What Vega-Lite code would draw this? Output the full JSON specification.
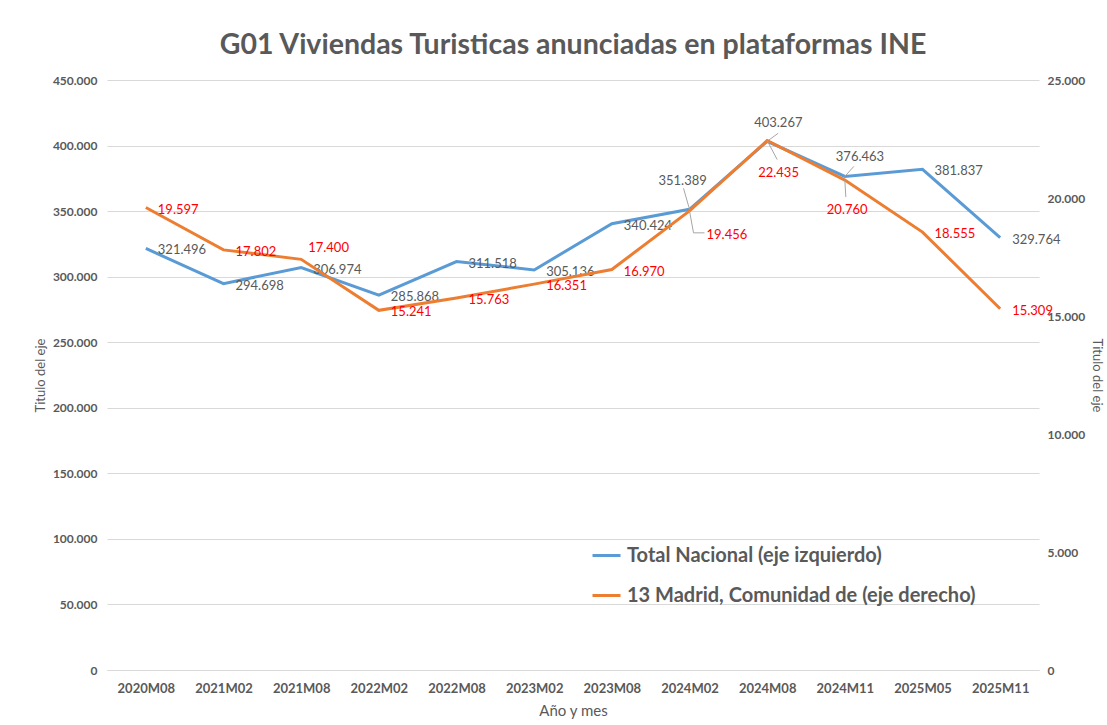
{
  "$schema": "https://vega.github.io/schema/vega-lite/v6.json",
  "width": 932,
  "height": 590,
  "autosize": "none",
  "padding": {"left": 107, "top": 80, "right": 68, "bottom": 55},
  "background": "white",
  "config": {
    "font": "Lato",
    "locale": {"number": {"decimal": ",", "thousands": ".", "grouping": [3], "currency": ["", " €"]}},
    "view": {"stroke": null},
    "axis": {"labelColor": "#595959", "titleColor": "#595959", "labelFontWeight": "bold", "labelFontSize": 12, "titleFontWeight": "normal", "ticks": false}
  },
  "title": {"text": "G01 Viviendas Turisticas anunciadas en plataformas INE", "fontSize": 28.5, "fontWeight": "bold", "color": "#595959", "offset": 15, "font": "Lato"},
  "data": {"values": [
    {"mes": "2020M08", "total": 321496, "madrid": 19597},
    {"mes": "2021M02", "total": 294698, "madrid": 17802},
    {"mes": "2021M08", "total": 306974, "madrid": 17400},
    {"mes": "2022M02", "total": 285868, "madrid": 15241},
    {"mes": "2022M08", "total": 311518, "madrid": 15763},
    {"mes": "2023M02", "total": 305136, "madrid": 16351},
    {"mes": "2023M08", "total": 340424, "madrid": 16970},
    {"mes": "2024M02", "total": 351389, "madrid": 19456},
    {"mes": "2024M08", "total": 403267, "madrid": 22435},
    {"mes": "2024M11", "total": 376463, "madrid": 20760},
    {"mes": "2025M05", "total": 381837, "madrid": 18555},
    {"mes": "2025M11", "total": 329764, "madrid": 15309}
  ]},
  "encoding": {
    "x": {"field": "mes", "type": "ordinal", "scale": {"type": "point", "padding": 0.5},
      "axis": {"labelAngle": 0, "title": "Año y mes", "titleFontSize": 15, "labelFontSize": 13, "labelPadding": 12, "titlePadding": 8, "domainColor": "#D9D9D9", "grid": false}}
  },
  "layer": [
    {
      "encoding": {
        "y": {"field": "total", "type": "quantitative", "scale": {"domain": [0, 450000], "nice": false},
          "axis": {"values": [0, 50000, 100000, 150000, 200000, 250000, 300000, 350000, 400000, 450000], "format": ",d", "grid": true, "gridColor": "#D9D9D9", "domain": false, "labelPadding": 10, "title": "Titulo del eje", "titleFontSize": 13, "titlePadding": 5}}
      },
      "layer": [
        {"mark": {"type": "line", "strokeWidth": 3, "color": "#5B9BD5"},
          "encoding": {"color": {"datum": "Total Nacional (eje izquierdo)", "type": "nominal",
            "scale": {"domain": ["Total Nacional (eje izquierdo)", "13 Madrid, Comunidad de (eje derecho)"], "range": ["#5B9BD5", "#ED7D31"]},
            "legend": {"orient": "none", "legendX": 484, "legendY": 460, "title": null, "symbolType": "stroke", "symbolStrokeWidth": 3, "symbolSize": 784, "labelFontSize": 20, "labelFontWeight": "bold", "labelColor": "#595959", "rowPadding": 14, "labelOffset": 5, "labelLimit": 0}}}},
        {"transform": [{"filter": "indexof(['2024M02','2024M08','2024M11'], datum.mes) < 0"}],
          "mark": {"type": "text", "align": "left", "baseline": "middle", "dx": 12, "dy": 2, "fontSize": 13, "color": "#595959"},
          "encoding": {"text": {"field": "total", "type": "quantitative", "format": ",d"}}},
        {"transform": [{"filter": "datum.mes == '2024M02'"}],
          "mark": {"type": "text", "align": "left", "baseline": "middle", "dx": -31, "dy": -28, "fontSize": 13, "color": "#595959"},
          "encoding": {"text": {"field": "total", "type": "quantitative", "format": ",d"}}},
        {"transform": [{"filter": "datum.mes == '2024M08'"}],
          "mark": {"type": "text", "align": "left", "baseline": "middle", "dx": -13, "dy": -18, "fontSize": 13, "color": "#595959"},
          "encoding": {"text": {"field": "total", "type": "quantitative", "format": ",d"}}},
        {"transform": [{"filter": "datum.mes == '2024M11'"}],
          "mark": {"type": "text", "align": "left", "baseline": "middle", "dx": -9, "dy": -19, "fontSize": 13, "color": "#595959"},
          "encoding": {"text": {"field": "total", "type": "quantitative", "format": ",d"}}},
        {"transform": [{"filter": "datum.mes == '2024M02'"}],
          "mark": {"type": "rule", "color": "#A6A6A6", "strokeWidth": 1, "x2Offset": -6, "y2Offset": -21},
          "encoding": {"x2": {"field": "mes"}, "y2": {"field": "total"}}},
        {"transform": [{"filter": "datum.mes == '2024M08'"}],
          "mark": {"type": "rule", "color": "#A6A6A6", "strokeWidth": 1, "x2Offset": 11, "y2Offset": -8},
          "encoding": {"x2": {"field": "mes"}, "y2": {"field": "total"}}},
        {"transform": [{"filter": "datum.mes == '2024M11'"}],
          "mark": {"type": "rule", "color": "#A6A6A6", "strokeWidth": 1, "x2Offset": 9, "y2Offset": -10},
          "encoding": {"x2": {"field": "mes"}, "y2": {"field": "total"}}}
      ]
    },
    {
      "encoding": {
        "y": {"field": "madrid", "type": "quantitative", "scale": {"domain": [0, 25000], "nice": false},
          "axis": {"orient": "right", "values": [0, 5000, 10000, 15000, 20000, 25000], "format": ",d", "grid": false, "domain": false, "labelPadding": 8, "title": "Titulo del eje", "titleFontSize": 13, "titlePadding": 5}}
      },
      "layer": [
        {"mark": {"type": "line", "strokeWidth": 3, "color": "#ED7D31"},
          "encoding": {"color": {"datum": "13 Madrid, Comunidad de (eje derecho)", "type": "nominal"}}},
        {"transform": [{"filter": "indexof(['2021M08','2024M02','2024M08','2024M11'], datum.mes) < 0"}],
          "mark": {"type": "text", "align": "left", "baseline": "middle", "dx": 12, "dy": 2, "fontSize": 13, "color": "#FF0000"},
          "encoding": {"text": {"field": "madrid", "type": "quantitative", "format": ",d"}}},
        {"transform": [{"filter": "datum.mes == '2021M08'"}],
          "mark": {"type": "text", "align": "left", "baseline": "middle", "dx": 7, "dy": -11, "fontSize": 13, "color": "#FF0000"},
          "encoding": {"text": {"field": "madrid", "type": "quantitative", "format": ",d"}}},
        {"transform": [{"filter": "datum.mes == '2024M02'"}],
          "mark": {"type": "text", "align": "left", "baseline": "middle", "dx": 17, "dy": 24, "fontSize": 13, "color": "#FF0000"},
          "encoding": {"text": {"field": "madrid", "type": "quantitative", "format": ",d"}}},
        {"transform": [{"filter": "datum.mes == '2024M08'"}],
          "mark": {"type": "text", "align": "left", "baseline": "middle", "dx": -9, "dy": 32, "fontSize": 13, "color": "#FF0000"},
          "encoding": {"text": {"field": "madrid", "type": "quantitative", "format": ",d"}}},
        {"transform": [{"filter": "datum.mes == '2024M11'"}],
          "mark": {"type": "text", "align": "left", "baseline": "middle", "dx": -18, "dy": 30, "fontSize": 13, "color": "#FF0000"},
          "encoding": {"text": {"field": "madrid", "type": "quantitative", "format": ",d"}}},
        {"transform": [{"filter": "datum.mes == '2024M02'"}],
          "mark": {"type": "rule", "color": "#A6A6A6", "strokeWidth": 1, "x2Offset": 4, "y2Offset": 22},
          "encoding": {"x2": {"field": "mes"}, "y2": {"field": "madrid"}}},
        {"transform": [{"filter": "datum.mes == '2024M02'"}],
          "mark": {"type": "rule", "color": "#A6A6A6", "strokeWidth": 1, "xOffset": 4, "yOffset": 22, "x2Offset": 15, "y2Offset": 22},
          "encoding": {"x2": {"field": "mes"}, "y2": {"field": "madrid"}}},
        {"transform": [{"filter": "datum.mes == '2024M08'"}],
          "mark": {"type": "rule", "color": "#A6A6A6", "strokeWidth": 1, "x2Offset": 10, "y2Offset": 19},
          "encoding": {"x2": {"field": "mes"}, "y2": {"field": "madrid"}}},
        {"transform": [{"filter": "datum.mes == '2024M11'"}],
          "mark": {"type": "rule", "color": "#A6A6A6", "strokeWidth": 1, "x2Offset": 1, "y2Offset": 17},
          "encoding": {"x2": {"field": "mes"}, "y2": {"field": "madrid"}}}
      ]
    }
  ],
  "resolve": {"scale": {"y": "independent"}}
}
